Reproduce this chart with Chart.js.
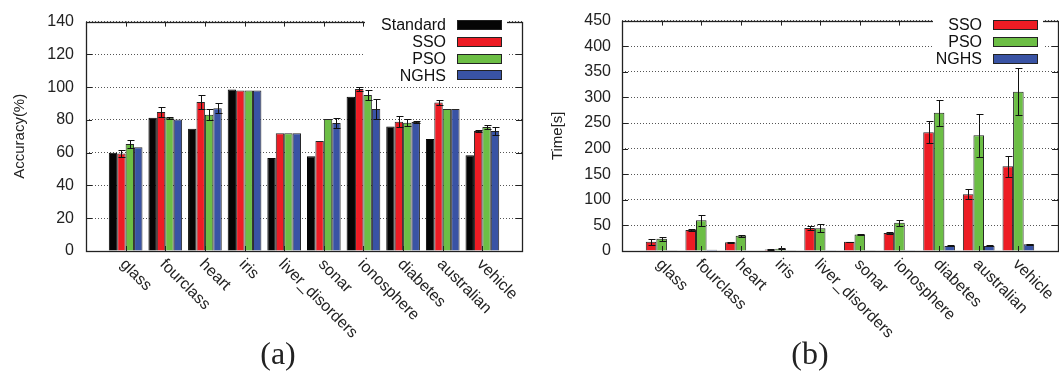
<!DOCTYPE html>
<html>
<head>
<meta charset="utf-8">
<script src="https://cdn.jsdelivr.net/npm/chart.js@4.4.0/dist/chart.umd.min.js"></script>
<style>
body { margin: 0; background: #fff; }
#wrap { position: relative; width: 1059px; height: 383px; overflow: hidden; }
canvas { position: absolute; top: 0; }
#accChart { left: 0; }
#timeChart { left: 530px; }
.cap { position: absolute; top: 337px; width: 80px; text-align: center; font: 32px "Liberation Serif", serif; line-height: 1; color: #222; }
</style>
</head>
<body>
<div id="wrap">
  <canvas id="accChart" width="530" height="383"></canvas>
  <canvas id="timeChart" width="529" height="383"></canvas>
  <div class="cap" style="left:238px">(a)</div>
  <div class="cap" style="left:770px">(b)</div>
</div>
<script>
// datasets
const categories = ['glass', 'fourclass', 'heart', 'iris', 'liver_disorders', 'sonar', 'ionosphere', 'diabetes', 'australian', 'vehicle'];

// (a) accuracy in %
const accStandard = [60, 81.3, 74.6, 98.5, 56.8, 57.8, 94.2, 76, 68.3, 58.4];
const accSSO      = [59.5, 84.8, 90.9, 98, 71.9, 67.2, 98.9, 78.9, 90.6, 73.2];
const accSSOErr   = [2.2, 3, 4, 0, 0, 0, 1, 3.2, 1.3, 0.8];
const accPSO      = [65.3, 81.3, 83.2, 98, 71.9, 80.6, 95.2, 78.3, 86.7, 75.6];
const accPSOErr   = [2.2, 0.5, 3.5, 0, 0, 0, 3, 2, 0, 1];
const accNGHS     = [63.3, 80.3, 87.1, 98, 71.9, 78.1, 86.7, 78.7, 86.6, 73.2];
const accNGHSErr  = [0, 0, 3, 0, 0, 3, 6, 0.8, 0, 2.2];
const accTicks    = [0, 20, 40, 60, 80, 100, 120, 140];

// (b) time in seconds
const timeSSO     = [18, 41, 17, 3, 45, 18, 35, 232, 111, 165.5];
const timeSSOErr  = [6, 1, 0.5, 0.5, 4, 0.5, 2, 21, 10, 20.6];
const timePSO     = [24, 60, 30, 4.5, 44.5, 32, 55, 270, 226, 311];
const timePSOErr  = [4, 10.7, 2, 1, 7.5, 0.5, 5.6, 25, 42, 46];
const timeNGHS    = [0.5, 2.5, 1, 0.5, 1.5, 0.5, 1.5, 10, 10, 13];
const timeNGHSErr = [0, 0, 0, 0, 0, 0, 0, 1, 1, 1];
const timeTicks   = [0, 50, 100, 150, 200, 250, 300, 350, 400, 450];

const RED = 'rgb(237,28,36)';
const GREEN = 'rgb(108,190,69)';
const BLUE = 'rgb(57,83,164)';
const BLACK = 'rgb(5,5,5)';

Chart.defaults.font.family = '"Liberation Sans", Arial, sans-serif';
Chart.defaults.color = '#222';

// empty slot on each side, like the gnuplot xrange
function pad(arr) {
    return [null].concat(arr, [null]);
}

// error bars, frame, inner ticks, slanted labels, legend
const extrasPlugin = {
    id: 'extras',
    afterDatasetsDraw(chart, args, opts) {
        const ctx = chart.ctx;
        const area = chart.chartArea;
        const xs = chart.scales.x;
        const ys = chart.scales.y;
        ctx.save();

        // error bars
        ctx.strokeStyle = '#111';
        ctx.lineWidth = 1;
        chart.data.datasets.forEach((ds, di) => {
            if (!ds.err) return;
            chart.getDatasetMeta(di).data.forEach((bar, i) => {
                const e = ds.err[i];
                if (!e) return;
                const v = ds.data[i];
                const bx = Math.round(bar.x) + 0.5;
                const y1 = Math.round(ys.getPixelForValue(v - e)) + 0.5;
                const y2 = Math.round(ys.getPixelForValue(v + e)) + 0.5;
                ctx.beginPath();
                ctx.moveTo(bx, y1); ctx.lineTo(bx, y2);
                ctx.moveTo(bx - 3, y1); ctx.lineTo(bx + 4, y1);
                ctx.moveTo(bx - 3, y2); ctx.lineTo(bx + 4, y2);
                ctx.stroke();
            });
        });

        // frame
        ctx.strokeStyle = '#222';
        ctx.lineWidth = 1.3;
        ctx.strokeRect(Math.round(area.left) + 0.5, Math.round(area.top) + 0.5,
            Math.round(area.right - area.left), Math.round(area.bottom - area.top));

        // inward tick marks
        ctx.lineWidth = 1;
        ctx.beginPath();
        ys.ticks.forEach((t) => {
            if (t.value === ys.min || t.value === ys.max) return;
            const py = Math.round(ys.getPixelForValue(t.value)) + 0.5;
            ctx.moveTo(area.left, py); ctx.lineTo(area.left + 6, py);
            ctx.moveTo(area.right, py); ctx.lineTo(area.right - 6, py);
        });
        const labels = chart.data.labels;
        labels.forEach((lab, i) => {
            if (!lab) return;
            const px = Math.round(xs.getPixelForTick(i)) + 0.5;
            ctx.moveTo(px, area.top); ctx.lineTo(px, area.top + 5);
            ctx.moveTo(px, area.bottom); ctx.lineTo(px, area.bottom - 5);
        });
        ctx.stroke();

        // slanted category labels
        ctx.fillStyle = '#222';
        ctx.font = '16px "Liberation Sans", Arial, sans-serif';
        ctx.textAlign = 'left';
        ctx.textBaseline = 'middle';
        labels.forEach((lab, i) => {
            if (!lab) return;
            const px = xs.getPixelForTick(i);
            ctx.save();
            ctx.translate(px - 3, area.bottom + 11);
            ctx.rotate(Math.PI / 4);
            ctx.fillText(lab, 0, 0);
            ctx.restore();
        });

        // legend inside the plot, text to the left of the sample box
        const lg = opts.legend;
        const sets = chart.data.datasets;
        ctx.fillStyle = '#fff';
        ctx.fillRect(lg.clearLeft, lg.top - 9, lg.boxRight + 5 - lg.clearLeft, (sets.length - 1) * lg.step + 14);
        ctx.font = '16px "Liberation Sans", Arial, sans-serif';
        ctx.textAlign = 'right';
        sets.forEach((ds, i) => {
            const cy = lg.top + i * lg.step;
            ctx.fillStyle = '#111';
            ctx.fillText(ds.label, lg.textRight, cy + 1);
            ctx.fillStyle = ds.backgroundColor;
            ctx.fillRect(lg.boxRight - 45, Math.round(cy - 5), 45, 10);
            ctx.strokeStyle = '#222';
            ctx.lineWidth = 1;
            ctx.strokeRect(lg.boxRight - 45 + 0.5, Math.round(cy - 5) + 0.5, 44, 9);
        });

        ctx.restore();
    }
};

function barSet(label, values, errs, color) {
    return {
        label: label,
        data: pad(values),
        err: errs ? pad(errs) : null,
        backgroundColor: color,
        borderColor: color === BLACK ? BLACK : '#262626',
        borderWidth: 1,
        barPercentage: 1.0
    };
}

function makeChart(id, datasets, opt) {
    const ctx = document.getElementById(id).getContext('2d');
    return new Chart(ctx, {
        type: 'bar',
        data: { labels: pad(categories).map(c => c || ''), datasets: datasets },
        options: {
            responsive: false,
            animation: false,
            devicePixelRatio: 1,
            layout: { padding: { left: 0, right: opt.padRight, top: 12, bottom: 0 } },
            datasets: { bar: { categoryPercentage: opt.catPct } },
            scales: {
                x: {
                    type: 'category',
                    offset: false,
                    grid: { display: false },
                    border: { display: false },
                    ticks: { display: false },
                    afterFit: (s) => { s.height = 132; }
                },
                y: {
                    min: opt.ticks[0],
                    max: opt.ticks[opt.ticks.length - 1],
                    afterBuildTicks: (s) => { s.ticks = opt.ticks.map(v => ({ value: v })); },
                    grid: { color: '#555', lineWidth: 1, drawTicks: false },
                    border: { display: false, dash: [1, 2] },
                    ticks: { padding: opt.tickPad, font: { size: 16 }, color: '#222' },
                    title: {
                        display: true,
                        text: opt.title,
                        font: { size: 15 },
                        color: '#222',
                        padding: { top: opt.titlePad, bottom: 0 }
                    },
                    afterFit: (s) => { s.width = opt.axisWidth; }
                }
            },
            plugins: {
                legend: { display: false },
                tooltip: { enabled: false },
                extras: { legend: opt.legend }
            }
        },
        plugins: [extrasPlugin]
    });
}

makeChart('accChart', [
    barSet('Standard', accStandard, null, BLACK),
    barSet('SSO', accSSO, accSSOErr, RED),
    barSet('PSO', accPSO, accPSOErr, GREEN),
    barSet('NGHS', accNGHS, accNGHSErr, BLUE)
], {
    title: 'Accuracy(%)', ticks: accTicks, axisWidth: 86, padRight: 8, tickPad: 12, titlePad: 11, catPct: 0.85,
    legend: { textRight: 446, boxRight: 502, top: 25, step: 16.8, clearLeft: 365 }
});

makeChart('timeChart', [
    barSet('SSO', timeSSO, timeSSOErr, RED),
    barSet('PSO', timePSO, timePSOErr, GREEN),
    barSet('NGHS', timeNGHS, timeNGHSErr, BLUE)
], {
    title: 'Time[s]', ticks: timeTicks, axisWidth: 92, padRight: 1, tickPad: 11, titlePad: 19, catPct: 0.8,
    legend: { textRight: 452, boxRight: 508, top: 25, step: 16.8, clearLeft: 403 }
});
</script>
</body>
</html>
